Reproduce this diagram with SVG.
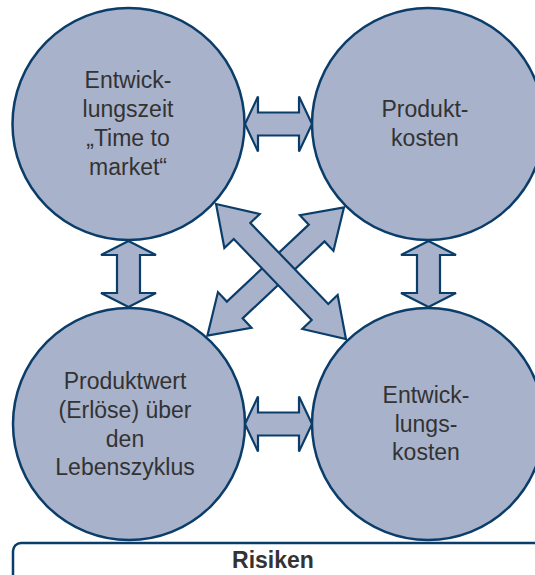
<svg xmlns="http://www.w3.org/2000/svg" width="535" height="575" viewBox="0 0 535 575">
<style>
.node{fill:#a8b2ca;stroke:#0b3d6a;stroke-width:2.5}
.arr{fill:#a8b2ca;stroke:#0b3d6a;stroke-width:2.2;stroke-linejoin:miter}
.lbl{font-family:"Liberation Sans",Arial,Helvetica,sans-serif;font-size:23px;fill:#333;text-anchor:middle}
.bold{font-weight:bold}
</style>
<defs>
<path id="diag" d="M-93.7,0 L-56.2,-24.5 L-56.2,-11.5 L56.2,-11.5 L56.2,-24.5 L93.7,0 L56.2,24.5 L56.2,11.5 L-56.2,11.5 L-56.2,24.5 Z"/>
</defs>
<rect x="0" y="0" width="535" height="575" fill="#fff"/>
<g id="n1">
<circle class="node" cx="128.5" cy="124" r="116"/>
<text class="lbl"><tspan x="128" y="88">Entwick-</tspan><tspan x="128" y="117">lungszeit</tspan><tspan x="128" y="146">„Time to</tspan><tspan x="128" y="175">market“</tspan></text>
</g>
<g id="n2">
<circle class="node" cx="428" cy="124" r="116"/>
<text class="lbl"><tspan x="425" y="117">Produkt-</tspan><tspan x="425" y="146">kosten</tspan></text>
</g>
<g id="n3">
<circle class="node" cx="129" cy="424" r="116"/>
<text class="lbl"><tspan x="125" y="389">Produktwert</tspan><tspan x="125" y="418">(Erlöse) über</tspan><tspan x="125" y="447">den</tspan><tspan x="125" y="475">Lebenszyklus</tspan></text>
</g>
<g id="n4">
<circle class="node" cx="428" cy="424" r="116"/>
<text class="lbl"><tspan x="426" y="403">Entwick-</tspan><tspan x="426" y="432">lungs-</tspan><tspan x="426" y="460">kosten</tspan></text>
</g>
<g id="connectors">
<path class="arr" d="M245,124 L258,96.5 L258,112.5 L299,112.5 L299,96.5 L312,124 L299,151.5 L299,135.5 L258,135.5 L258,151.5 Z"/>
<path class="arr" d="M245,424 L258,396.5 L258,412.5 L299,412.5 L299,396.5 L312,424 L299,451.5 L299,435.5 L258,435.5 L258,451.5 Z"/>
<path class="arr" d="M128.5,241 L156,255 L140,255 L140,293 L156,293 L128.5,307 L101,293 L117,293 L117,255 L101,255 Z"/>
<path class="arr" d="M428.5,241 L456,255 L440,255 L440,293 L456,293 L428.5,307 L401,293 L417,293 L417,255 L401,255 Z"/>
<use href="#diag" class="arr" transform="translate(275.7,271.5) rotate(136.8)"/>
<use href="#diag" class="arr" transform="translate(281,271.5) rotate(46.1)"/>
</g>
<g id="risiken">
<rect x="13" y="543" width="540" height="60" rx="8" ry="8" fill="#fff" stroke="#0b3d6a" stroke-width="2.5"/>
<text class="lbl bold" x="273" y="568">Risiken</text>
</g>
</svg>
